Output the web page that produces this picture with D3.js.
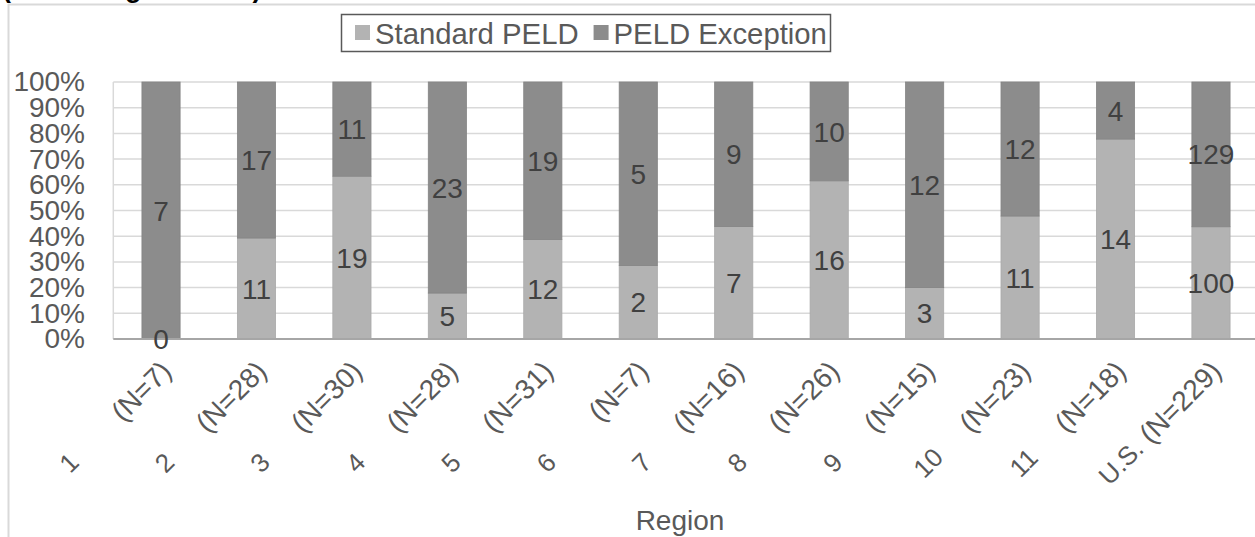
<!DOCTYPE html>
<html>
<head>
<meta charset="utf-8">
<script src="https://cdn.jsdelivr.net/npm/d3@7"></script>
<style>
  body { margin: 0; background: #fff; }
  svg { display: block; font-family: "Liberation Sans", Arial, sans-serif; }
</style>
</head>
<body>
<script>
// chart data
const regions = ['1', '2', '3', '4', '5', '6', '7', '8', '9', '10', '11', 'U.S.'];
const totals = [7, 28, 30, 28, 31, 7, 16, 26, 15, 23, 18, 229];
const standard = [0, 11, 19, 5, 12, 2, 7, 16, 3, 11, 14, 100];
const exception = [7, 17, 11, 23, 19, 5, 9, 10, 12, 12, 4, 129];
const seriesNames = ['Standard PELD', 'PELD Exception'];
const yTicks = [0, 0.1, 0.2, 0.3, 0.4, 0.5, 0.6, 0.7, 0.8, 0.9, 1];

const colors = ['#b3b3b3', '#8c8c8c'];
const width = 1255, height = 537;
const plot = {left: 113.3, right: 1258.7, top: 82, bottom: 339};

const svg = d3.select('body').append('svg')
  .attr('width', width)
  .attr('height', height);

// clipped title line above the chart box (only descenders show)
svg.append('text')
  .attr('x', 2).attr('y', -3)
  .attr('font-size', 27).attr('font-weight', 'bold').attr('fill', '#000')
  .text('(Percentage Shown)');

// chart frame
svg.append('line').attr('x1', 8.5).attr('x2', 8.5).attr('y1', 4).attr('y2', height)
  .attr('stroke', '#d9d9d9').attr('stroke-width', 2);
svg.append('line').attr('x1', 8).attr('x2', width).attr('y1', 4.5).attr('y2', 4.5)
  .attr('stroke', '#d9d9d9').attr('stroke-width', 2);

// scales
const x = d3.scaleBand().domain(regions).range([plot.left, plot.right])
  .paddingInner(0.6).paddingOuter(0.3);
const y = d3.scaleLinear().domain([0, 1]).range([plot.bottom, plot.top]);

// gridlines
svg.append('g').selectAll('line').data(yTicks.slice(1)).join('line')
  .attr('x1', plot.left).attr('x2', plot.right)
  .attr('y1', (d) => y(d)).attr('y2', (d) => y(d))
  .attr('stroke', '#d9d9d9').attr('stroke-width', 1.5);
svg.append('line').attr('x1', plot.left).attr('x2', plot.left)
  .attr('y1', plot.top).attr('y2', plot.bottom)
  .attr('stroke', '#d9d9d9').attr('stroke-width', 1.5);

// y axis
const yaxis = d3.axisLeft(y).tickValues(yTicks).tickFormat(d3.format('.0%')).tickSize(0).tickPadding(0);
const g_yaxis = svg.append('g').attr('transform', 'translate(85,0)').call(yaxis);
g_yaxis.select('.domain').remove();
g_yaxis.selectAll('text').attr('font-size', 28).attr('fill', '#595959')
  .attr('font-family', '"Liberation Sans", Arial, sans-serif');

// stacked percentage data
const rows = regions.map((r, i) => ({region: r, s: standard[i], e: exception[i], n: totals[i]}));
const stack = d3.stack().keys(['s', 'e']).offset(d3.stackOffsetExpand);
const layers = stack(rows);

const g_bars = svg.append('g');
layers.forEach((layer, li) => {
  g_bars.append('g').selectAll('rect').data(layer).join('rect')
    .attr('x', (d) => x(d.data.region))
    .attr('width', x.bandwidth())
    .attr('y', (d) => y(d[1]))
    .attr('height', (d) => y(d[0]) - y(d[1]))
    .attr('fill', colors[li])
    .attr('stroke', li === 0 ? '#a9a9a9' : '#848484').attr('stroke-width', 0.8);
});

// bottom axis line
svg.append('line').attr('x1', plot.left).attr('x2', plot.right)
  .attr('y1', plot.bottom).attr('y2', plot.bottom)
  .attr('stroke', '#a6a6a6').attr('stroke-width', 2);

// data labels
layers.forEach((layer, li) => {
  svg.append('g').selectAll('text').data(layer).join('text')
    .attr('x', (d) => x(d.data.region) + x.bandwidth() / 2)
    .attr('y', (d) => (y(d[0]) + y(d[1])) / 2)
    .attr('dy', '0.36em')
    .attr('text-anchor', 'middle')
    .attr('font-size', 28).attr('fill', '#404040')
    .text((d) => li === 0 ? d.data.s : d.data.e);
});

// x labels, rotated
const g_x = svg.append('g').selectAll('g').data(rows).join('g')
  .attr('transform', (d) => `translate(${x(d.region) + x.bandwidth() / 2 + 12},373) rotate(-45)`);
g_x.append('text')
  .attr('class', 'nlab')
  .attr('text-anchor', 'end')
  .attr('font-size', 28).attr('fill', '#595959')
  .text((d) => `(N=${d.n})`);
g_x.append('text')
  .attr('font-size', 26).attr('fill', '#595959')
  .each(function(d) {
    const t = d3.select(this);
    if (d.region.length > 2) {
      // long name sits right before the N part
      const w = d3.select(this.parentNode).select('.nlab').node().getComputedTextLength();
      t.attr('text-anchor', 'end').attr('x', -w - 8).attr('y', 0);
    } else {
      t.attr('text-anchor', 'middle').attr('x', -137).attr('y', -1);
    }
  })
  .text((d) => d.region);

// axis title
svg.append('text')
  .attr('x', (plot.left + plot.right) / 2 - 6).attr('y', 530)
  .attr('text-anchor', 'middle')
  .attr('font-size', 28).attr('fill', '#595959')
  .text('Region');

// legend
const legend = svg.append('g');
legend.append('rect').attr('x', 341.5).attr('y', 14.5).attr('width', 489).attr('height', 37)
  .attr('fill', '#fff').attr('stroke', '#595959').attr('stroke-width', 1.5);
let lx = 355;
seriesNames.forEach((name, i) => {
  legend.append('rect').attr('x', lx).attr('y', 25).attr('width', 15).attr('height', 15)
    .attr('fill', colors[i]);
  const t = legend.append('text').attr('x', lx + 20).attr('y', 33).attr('dy', '0.36em')
    .attr('font-size', 29.3).attr('fill', '#595959').text(name);
  lx += 20 + t.node().getComputedTextLength() + 15;
});
</script>
</body>
</html>
